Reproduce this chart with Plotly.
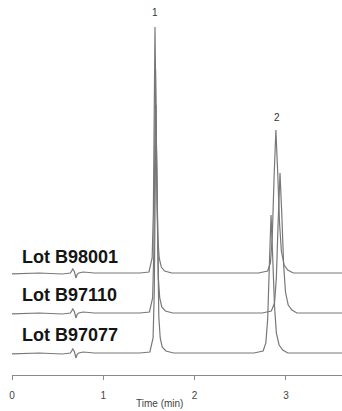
import plotly.graph_objects as go

# ---- data (signal above each trace's own baseline, arbitrary units) ----
lots = ["Lot B98001", "Lot B97110", "Lot B97077"]
offsets = [80, 40, 0]

t_b98001 = [-0.02, 0.30, 0.55, 0.64, 0.666, 0.685, 0.70, 0.715, 0.73, 0.78, 0.90, 1.40, 1.50, 1.535, 1.548, 1.557,
            1.566, 1.575, 1.585, 1.597, 1.612, 1.635, 1.67, 1.75, 2.70, 2.80, 2.83, 2.85, 2.87, 2.89, 2.91,
            2.93, 2.95, 2.98, 3.02, 3.08, 3.62]
s_b98001 = [-1, 0, -1, 0, 4, 1, -5, -1, 0, 1, 0, 0, 1, 15, 60, 150,
            246, 170, 80, 35, 15, 6, 2, 0, 0, 2, 10, 35, 95, 143, 100,
            50, 22, 8, 3, 0, 0]

t_b97110 = [-0.02, 0.30, 0.55, 0.64, 0.666, 0.685, 0.70, 0.715, 0.73, 0.78, 0.90, 1.40, 1.505, 1.54, 1.553, 1.562,
            1.572, 1.581, 1.591, 1.603, 1.618, 1.64, 1.68, 1.76, 2.74, 2.84, 2.875, 2.895, 2.915, 2.935, 2.955,
            2.975, 2.995, 3.025, 3.065, 3.12, 3.62]
s_b97110 = [-1, 0, -1, 0, 4, 1, -5, -1, 0, 1, 0, 0, 1, 15, 60, 150,
            244, 168, 80, 35, 15, 6, 2, 0, 0, 2, 10, 35, 92, 140, 98,
            48, 21, 8, 3, 0, 0]

t_b97077 = [-0.02, 0.30, 0.55, 0.64, 0.666, 0.685, 0.70, 0.715, 0.73, 0.78, 0.90, 1.40, 1.51, 1.545, 1.558, 1.567,
            1.577, 1.586, 1.596, 1.608, 1.623, 1.645, 1.685, 1.77, 2.65, 2.75, 2.78, 2.80, 2.82, 2.837, 2.855,
            2.875, 2.895, 2.925, 2.965, 3.02, 3.62]
s_b97077 = [-1, 0, -1, 0, 4, 1, -5, -1, 0, 1, 0, 0, 1, 15, 60, 150,
            248, 172, 82, 36, 15, 6, 2, 0, 0, 2, 10, 34, 92, 138, 96,
            47, 20, 8, 3, 0, 0]

series_t = [t_b98001, t_b97110, t_b97077]
series_s = [s_b98001, s_b97110, s_b97077]

peak_labels = ["1", "2"]
peak_label_t = [1.566, 2.90]
peak_label_y = [341, 236]

tick_vals = [0, 1, 2, 3]
tick_text = ["0", "1", "2", "3"]

label_y = [96, 58, 18]

fig = go.Figure()
for name, off, ts, ss in zip(lots, offsets, series_t, series_s):
    fig.add_trace(go.Scatter(
        x=ts, y=[v + off for v in ss], mode="lines", name=name,
        line=dict(color="#787878", width=1.2), showlegend=False, hoverinfo="skip"))

for name, ly in zip(lots, label_y):
    fig.add_annotation(x=0.088, y=ly, xref="x", yref="y", text="<b>" + name + "</b>",
                       showarrow=False, xanchor="left", yanchor="middle",
                       font=dict(family="Liberation Sans, Arial", size=18, color="#151515"))

for lab, lt, lyy in zip(peak_labels, peak_label_t, peak_label_y):
    fig.add_annotation(x=lt, y=lyy, xref="x", yref="y", text=lab, showarrow=False,
                       font=dict(family="Liberation Sans, Arial", size=10, color="#333333"))

fig.add_annotation(x=1.62, y=-0.077, xref="x", yref="paper", text="Time (min)", showarrow=False,
                   yanchor="middle", font=dict(family="Liberation Sans, Arial", size=10, color="#444444"))

fig.update_layout(
    width=342, height=411,
    margin=dict(l=12, r=0, t=0, b=36),
    paper_bgcolor="white", plot_bgcolor="white",
    xaxis=dict(range=[0, 3.614], showgrid=False, zeroline=False, showline=True,
               linecolor="#8a8a8a", linewidth=1.2, ticks="outside", ticklen=4,
               tickcolor="#8a8a8a", tickwidth=1, tickvals=tick_vals, ticktext=tick_text,
               ticklabelstandoff=7,
               tickfont=dict(family="Liberation Sans, Arial", size=10, color="#444444")),
    yaxis=dict(range=[-22, 353], visible=False, showgrid=False, zeroline=False),
)

fig.write_html("out.html")
